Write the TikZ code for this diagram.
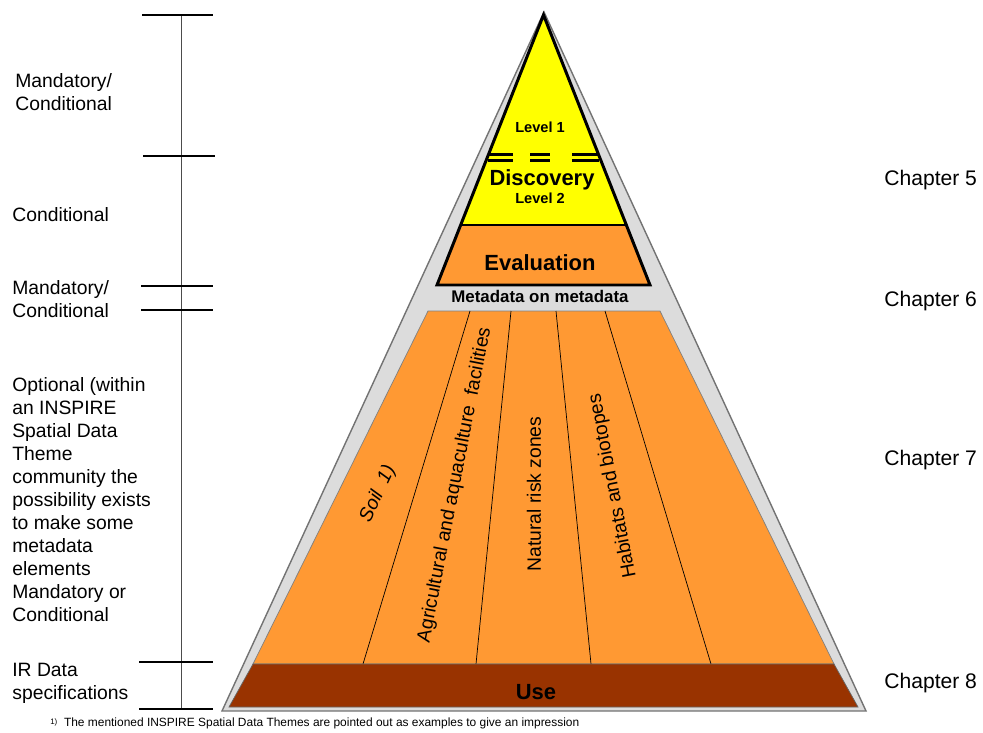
\documentclass[tikz,border=0pt]{standalone}
\usepackage{fontspec}
\setmainfont{Liberation Sans}
\usetikzlibrary{positioning}

\definecolor{pyrgrey}{HTML}{DCDCDC}
\definecolor{pyryellow}{HTML}{FFFF00}
\definecolor{pyrorange}{HTML}{FF9933}
\definecolor{pyrbrown}{HTML}{993300}

\begin{document}
\begin{tikzpicture}[x=0.02cm,y=-0.02cm,
    side label/.style={anchor=north west,inner sep=0pt,align=left,font=\fontsize{11}{13.1}\selectfont},
    chapter label/.style={anchor=base west,inner sep=0pt,font=\fontsize{12}{14}\selectfont},
    big label/.style={anchor=base,inner sep=0pt,font=\bfseries\fontsize{12.5}{15}\selectfont},
    small label/.style={anchor=base,inner sep=0pt,font=\bfseries\fontsize{8.3}{10}\selectfont},
    theme label/.style={inner sep=0pt,font=\fontsize{11}{13}\selectfont},
    scale tick/.style={line width=0.6pt}]
  \useasboundingbox (0,0) rectangle (983,733);

  % scale on the left
  \begin{scope}
    \draw[line width=0.5pt,black!70] (181,15) -- (181,709);
    \draw[scale tick,line width=0.9pt] (142,15) -- (213,15);
    \draw[scale tick,line width=0.9pt] (143,156) -- (215,156);
    \draw[scale tick] (141,286) -- (213,286);
    \draw[scale tick] (141,310) -- (213,310);
    \draw[scale tick] (139,662) -- (213,662);
    \draw[scale tick] (139,709) -- (213,709);

    \node[side label] (mand1) at (15,73) {Mandatory/\\Conditional};
    \node[side label] (cond) at (12,207) {Conditional};
    \node[side label] (mand2) at (12,280) {Mandatory/\\Conditional};
    \node[side label] (optional) at (12,377) {Optional (within\\an INSPIRE\\Spatial Data\\Theme\\community the\\possibility exists\\to make some\\metadata\\elements\\Mandatory or\\Conditional};
    \node[side label] (irdata) at (12,663) {IR Data\\specifications};
  \end{scope}

  % pyramid
  \begin{scope}
    \filldraw[fill=pyrgrey,draw=black!55,line width=0.8pt] (544,12) -- (866,711) -- (222,711) -- cycle;

    \fill[pyryellow] (543.5,15) -- (626.3,225) -- (460.7,225) -- cycle;
    \fill[pyrorange] (460.7,225) -- (626.3,225) -- (650,285) -- (437,285) -- cycle;
    \draw[line width=1.4pt] (460.7,225) -- (626.3,225);
    \draw[line width=1.7pt,line join=miter] (543.5,15) -- (650,285) -- (437,285) -- cycle;
    \foreach \y in {154.5,160.5} {
      \draw[line width=1.5pt] (488,\y) -- (513,\y);
      \draw[line width=1.5pt] (530,\y) -- (550,\y);
      \draw[line width=1.5pt] (572,\y) -- (599,\y);
    }

    \filldraw[fill=pyrorange,draw=black!50,line width=0.4pt] (428,311) -- (660,311) -- (834,664) -- (253,664) -- cycle;
    \draw[line width=0.4pt] (470,311) -- (363,664);
    \draw[line width=0.4pt] (511,311) -- (476,664);
    \draw[line width=0.4pt] (556,311) -- (591,664);
    \draw[line width=0.4pt] (605,311) -- (711,664);
    \filldraw[fill=pyrbrown,draw=black!60,line width=0.4pt] (253,664) -- (834,664) -- (858,707) -- (229,707) -- cycle;

    \node[small label] (lev1) at (540,133) {Level 1};
    \node[big label] (disc) at (542,186) {Discovery};
    \node[small label] (lev2) at (540,204) {Level 2};
    \node[big label] (eval) at (540,270) {Evaluation};
    \node[small label,font=\bfseries\fontsize{9.6}{11}\selectfont] (meta) at (540,302) {Metadata on metadata};
    \node[big label] (use) at (536,699) {Use};

    \node[theme label,rotate=65,font=\itshape\fontsize{11}{13}\selectfont] (soil) at (378,494) {Soil\ \ 1)};
    \node[theme label,rotate=79] (agri) at (455,485) {Agricultural and aquaculture\ \ facilities};
    \node[theme label,rotate=90] (risk) at (534,494) {Natural risk zones};
    \node[theme label,rotate=101] (habit) at (613,486) {Habitats and biotopes};
  \end{scope}

  % chapters
  \node[chapter label] (ch5) at (884,186) {Chapter 5};
  \node[chapter label] (ch6) at (884,306) {Chapter 6};
  \node[chapter label] (ch7) at (884,465) {Chapter 7};
  \node[chapter label] (ch8) at (884,688) {Chapter 8};

  \node[anchor=base west,inner sep=0pt,font=\fontsize{6.8}{8}\selectfont] (note) at (50,726)
    {\raisebox{0.3ex}{\fontsize{4.5}{5}\selectfont 1)}\ \ The mentioned INSPIRE Spatial Data Themes are pointed out as examples to give an impression};
\end{tikzpicture}
\end{document}
